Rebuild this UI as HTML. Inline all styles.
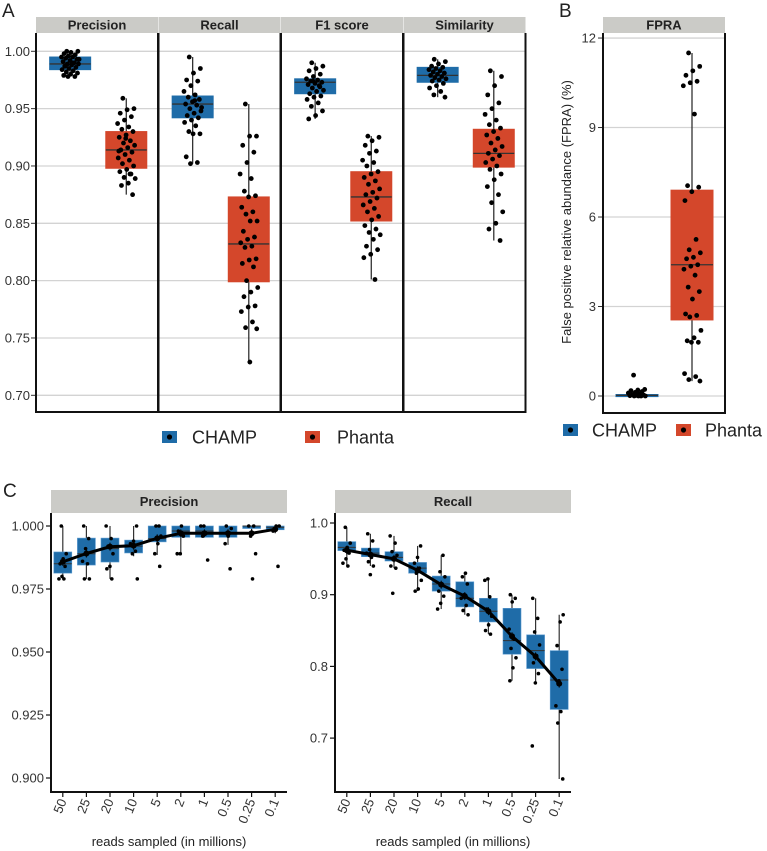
<!DOCTYPE html>
<html><head><meta charset="utf-8">
<style>
html,body{margin:0;padding:0;background:#fff;}
svg{display:block;font-family:"Liberation Sans",Arial,sans-serif;}
</style></head>
<body>
<svg id="fig" width="767" height="851" viewBox="0 0 767 851" xmlns="http://www.w3.org/2000/svg"></svg>
<script>
// ---------- Panel A data ----------
const metricsA = ["Precision","Recall","F1 score","Similarity"];
const groups = ["CHAMP","Phanta"];
// box stats: [lowWhisker, q1, median, q3, highWhisker]
const champBoxA = [[0.978,0.984,0.989,0.995,1.000],[0.902,0.942,0.954,0.961,0.995],[0.941,0.963,0.973,0.976,0.990],[0.960,0.973,0.979,0.986,0.993]];
const phantaBoxA = [[0.875,0.898,0.914,0.930,0.959],[0.729,0.799,0.832,0.873,0.954],[0.801,0.852,0.873,0.895,0.926],[0.835,0.899,0.911,0.932,0.983]];
const champPtsA = [
 [1.0,1.0,0.999,0.998,0.997,0.996,0.995,0.995,0.994,0.993,0.992,0.991,0.990,0.989,0.989,0.988,0.987,0.986,0.985,0.984,0.983,0.982,0.981,0.980,0.979,0.978,0.978,0.993,0.990,0.987],
 [0.995,0.985,0.981,0.975,0.974,0.970,0.965,0.962,0.960,0.958,0.956,0.954,0.953,0.950,0.948,0.946,0.944,0.942,0.940,0.938,0.935,0.930,0.928,0.928,0.908,0.903,0.902,0.951,0.957],
 [0.990,0.987,0.985,0.983,0.980,0.978,0.976,0.975,0.974,0.973,0.972,0.971,0.970,0.968,0.966,0.965,0.963,0.961,0.960,0.958,0.955,0.952,0.948,0.944,0.941,0.969,0.974],
 [0.993,0.991,0.989,0.987,0.986,0.985,0.984,0.983,0.982,0.981,0.980,0.979,0.978,0.977,0.976,0.975,0.974,0.972,0.970,0.968,0.965,0.962,0.960]
];
const phantaPtsA = [
 [0.959,0.950,0.949,0.946,0.943,0.940,0.937,0.934,0.932,0.930,0.927,0.925,0.922,0.920,0.918,0.916,0.914,0.912,0.910,0.907,0.905,0.902,0.900,0.897,0.895,0.893,0.890,0.889,0.885,0.883,0.875,0.924,0.913,0.893],
 [0.954,0.926,0.926,0.918,0.912,0.903,0.893,0.889,0.878,0.874,0.873,0.864,0.860,0.858,0.852,0.852,0.843,0.838,0.836,0.833,0.830,0.829,0.819,0.818,0.815,0.812,0.800,0.794,0.790,0.786,0.778,0.777,0.773,0.764,0.759,0.758,0.729],
 [0.926,0.925,0.922,0.918,0.913,0.911,0.905,0.903,0.900,0.895,0.893,0.890,0.887,0.884,0.880,0.877,0.875,0.872,0.869,0.866,0.863,0.860,0.856,0.853,0.848,0.845,0.842,0.840,0.836,0.830,0.827,0.823,0.820,0.801],
 [0.983,0.978,0.970,0.962,0.955,0.950,0.945,0.940,0.936,0.933,0.930,0.927,0.924,0.920,0.917,0.914,0.911,0.909,0.906,0.903,0.900,0.897,0.893,0.888,0.882,0.875,0.868,0.860,0.850,0.845,0.835]
];
const ticksA = [0.70,0.75,0.80,0.85,0.90,0.95,1.00];
// ---------- Panel B data ----------
const champBoxB = [-0.02,-0.02,0.02,0.05,0.2];
const phantaBoxB = [0.5,2.55,4.4,6.9,11.5];
const champPtsB = [0.7,0.22,0.2,0.18,0.15,0.12,0.1,0.08,0.05,0.03,0.02,0.01,0,0,0,0];
const phantaPtsB = [11.5,11.05,10.9,10.75,10.55,10.5,10.4,9.45,7.05,7.0,6.85,6.55,5.25,4.9,4.8,4.65,4.6,4.4,4.35,4.25,4.05,3.65,3.5,3.25,2.75,2.7,2.65,2.2,1.95,1.85,1.8,1.8,0.75,0.65,0.55,0.5];
const ticksB = [0,3,6,9,12];
// ---------- Panel C data ----------
const readsCats = ["50","25","20","10","5","2","1","0.5","0.25","0.1"];
const precBoxC = [[0.979,0.9813,0.985,0.9897,1.0],[0.979,0.9845,0.989,0.9952,1.0],[0.979,0.9857,0.991,0.9952,1.0],[0.988,0.9893,0.992,0.9944,1.0],[0.9885,0.9937,0.995,1.0,1.0],[0.9885,0.9955,0.998,1.0,1.0],[0.996,0.9955,0.998,1.0,1.0],[0.9925,0.9955,0.997,1.0,1.0],[0.996,0.999,1.0,1.0,1.0],[0.9975,0.9985,0.9995,1.0,1.0]];
const precMeanC = [0.9858,0.9891,0.9918,0.9922,0.9951,0.9971,0.9971,0.9971,0.9971,0.9987];
const precPtsC = [[1.0,0.989,0.987,0.985,0.984,0.980,0.979,0.979],[1.0,0.995,0.991,0.986,0.985,0.979,0.979],[1.0,0.995,0.992,0.989,0.984,0.983,0.979],[1.0,0.994,0.993,0.990,0.989,0.979],[1.0,1.0,0.996,0.993,0.989,0.984],[1.0,0.998,0.996,0.989,0.989],[1.0,1.0,0.997,0.996,0.9865],[1.0,0.999,0.996,0.993,0.983],[1.0,1.0,0.996,0.989,0.979],[1.0,1.0,0.998,0.984]];
const recBoxC = [[0.940,0.9615,0.966,0.974,0.994],[0.940,0.953,0.958,0.965,0.985],[0.937,0.947,0.952,0.960,0.982],[0.905,0.930,0.937,0.945,0.968],[0.880,0.905,0.915,0.926,0.955],[0.872,0.883,0.895,0.918,0.930],[0.845,0.862,0.877,0.895,0.922],[0.780,0.817,0.836,0.881,0.900],[0.775,0.797,0.822,0.844,0.895],[0.643,0.740,0.781,0.822,0.872]];
const recMeanC = [0.962,0.956,0.950,0.934,0.914,0.898,0.877,0.842,0.814,0.776];
const recPtsC = [[0.994,0.972,0.966,0.962,0.958,0.950,0.944,0.940],[0.985,0.975,0.963,0.958,0.952,0.946,0.940,0.928],[0.982,0.972,0.960,0.955,0.950,0.940,0.937,0.902],[0.968,0.952,0.944,0.937,0.930,0.920,0.908,0.905],[0.955,0.932,0.925,0.915,0.905,0.898,0.888,0.880],[0.930,0.925,0.915,0.900,0.895,0.885,0.878,0.872],[0.922,0.920,0.897,0.880,0.870,0.858,0.850,0.845],[0.900,0.895,0.890,0.852,0.838,0.825,0.812,0.798,0.780],[0.895,0.867,0.848,0.830,0.815,0.805,0.790,0.777,0.689],[0.872,0.862,0.829,0.796,0.780,0.745,0.737,0.721,0.643]];
const ticksCL = [0.900,0.925,0.950,0.975,1.000];
const ticksCR = [0.7,0.8,0.9,1.0];

const BLUE="#1f6ca8", RED="#d4472b", STRIP="#cbcbc7", GRID="#d3d3d3", TXT="#333";
const svg=document.getElementById('fig');
const NS="http://www.w3.org/2000/svg";
function mk(tag,attrs,parent){const e=document.createElementNS(NS,tag);for(const k in attrs)e.setAttribute(k,attrs[k]);(parent||svg).appendChild(e);return e;}
function txt(s,attrs,parent){const e=mk('text',attrs,parent);e.textContent=s;return e;}
function jit(i,amp){const f=(i*0.6180339887+0.31)%1;return (f*2-1)*amp;}

// ---------- Panel A ----------
const yA=v=>51.3+(1-v)*1146.7;
const panelX=[36,158.5,281,403.5], panelW=122;
txt("A",{x:2,y:17,"font-size":19,fill:"#222"});
const gA=mk('g',{});


ticksA.forEach(t=>{
  const tl=txt(t.toFixed(2),{x:30,y:yA(t)+4.5,"font-size":13,"text-anchor":"end",fill:TXT},gA);
  
  
  mk('line',{x1:31,x2:36,y1:yA(t),y2:yA(t),stroke:TXT,"stroke-width":1},gA);
});
metricsA.forEach((m,k)=>{
  const x0=panelX[k];
  const g=mk('g',{},gA);
  
  
  const st=mk('rect',{x:x0,y:17,width:panelW,height:16,fill:STRIP},g);
  
  const sl=txt(m,{x:x0+panelW/2,y:29.5,"font-size":13,"font-weight":"bold","text-anchor":"middle",fill:"#222"},g);
  
  ticksA.forEach(t=>mk('line',{x1:x0,x2:x0+panelW,y1:yA(t),y2:yA(t),stroke:GRID,"stroke-width":1.3},g));
  [[champBoxA[k],champPtsA[k],BLUE,0.28],[phantaBoxA[k],phantaPtsA[k],RED,0.74]].forEach(([b,pts,col,f],gi)=>{
    const cx=x0+panelW*f, w=41;
    const bg=mk('g',{},g);
    
    
    mk('line',{x1:cx,x2:cx,y1:yA(b[0]),y2:yA(b[4]),stroke:TXT,"stroke-width":1.3},bg);
    mk('rect',{x:cx-w/2,y:yA(b[3]),width:w,height:yA(b[1])-yA(b[3]),fill:col,stroke:col},bg);
    mk('line',{x1:cx-w/2,x2:cx+w/2,y1:yA(b[2]),y2:yA(b[2]),stroke:"#333","stroke-width":1.3},bg);
    pts.forEach((v,i)=>{
      const p=mk('circle',{cx:cx+jit(i,9),cy:yA(v),r:2.4,fill:"#000"},bg);
      
    });
  });
  mk('line',{x1:x0,x2:x0,y1:33,y2:412,stroke:"#111","stroke-width":2},g);
  mk('line',{x1:x0+panelW,x2:x0+panelW,y1:33,y2:412,stroke:"#111","stroke-width":2},g);
  mk('line',{x1:x0-1,x2:x0+panelW+1,y1:412,y2:412,stroke:"#111","stroke-width":2},g);
});

// ---------- Legends ----------
function legend(x,y,label,col,name,gap){
  const g=mk('g',{});
  
  
  mk('rect',{x:x,y:y-6,width:15,height:12,fill:col},g);
  mk('circle',{cx:x+7.5,cy:y,r:2.6,fill:"#000"},g);
  txt(label,{x:x+gap,y:y+6.5,"font-size":18,fill:"#222"},g);
}
legend(162,437,"CHAMP",BLUE,'legend-a-champ',30);
legend(305,437,"Phanta",RED,'legend-a-phanta',32);
legend(563,430,"CHAMP",BLUE,'legend-b-champ',29);
legend(676,430,"Phanta",RED,'legend-b-phanta',29);

// ---------- Panel B ----------
const yB=v=>396-v*29.83;
const gB=mk('g',{});


txt("B",{x:559,y:17,"font-size":19,fill:"#222"},gB);
mk('rect',{x:603,y:17,width:122,height:16,fill:STRIP},gB);
txt("FPRA",{x:664,y:29.5,"font-size":13,"font-weight":"bold","text-anchor":"middle",fill:"#222"},gB);
ticksB.forEach(t=>{
  mk('line',{x1:603,x2:725,y1:yB(t),y2:yB(t),stroke:GRID,"stroke-width":1.3},gB);
  mk('line',{x1:598,x2:603,y1:yB(t),y2:yB(t),stroke:TXT},gB);
  const tl=txt(String(t),{x:596,y:yB(t)+4.5,"font-size":13,"text-anchor":"end",fill:TXT},gB);
  
});
const yl=txt("False positive relative abundance (FPRA) (%)",{x:0,y:0,"font-size":13,"text-anchor":"middle",fill:"#222",transform:"translate(571,212) rotate(-90)"},gB);

[[champBoxB,champPtsB,BLUE,637],[phantaBoxB,phantaPtsB,RED,692]].forEach(([b,pts,col,cx],gi)=>{
  const w=42;
  const bg=mk('g',{},gB);
  
  
  mk('line',{x1:cx,x2:cx,y1:yB(b[0]),y2:yB(b[4]),stroke:TXT,"stroke-width":1.3},bg);
  mk('rect',{x:cx-w/2,y:yB(b[3]),width:w,height:Math.max(2,yB(b[1])-yB(b[3])),fill:col,stroke:col},bg);
  mk('line',{x1:cx-w/2,x2:cx+w/2,y1:yB(b[2]),y2:yB(b[2]),stroke:"#333","stroke-width":1.3},bg);
  pts.forEach((v,i)=>{
    const p=mk('circle',{cx:cx+jit(i,9),cy:yB(v),r:2.4,fill:"#000"},bg);
    
  });
});
mk('line',{x1:603,x2:603,y1:33,y2:413,stroke:"#111","stroke-width":2},gB);
mk('line',{x1:725,x2:725,y1:33,y2:413,stroke:"#111","stroke-width":2},gB);
mk('line',{x1:602,x2:726,y1:413,y2:413,stroke:"#111","stroke-width":2},gB);

// ---------- Panel C ----------
txt("C",{x:3,y:497,"font-size":19,fill:"#222"});
function panelC(name,title,x0,x1,yFn,ticks,fmt,boxes,means,pts){
  const g=mk('g',{});
  
  
  mk('rect',{x:x0,y:490,width:x1-x0,height:23,fill:STRIP},g);
  txt(title,{x:(x0+x1)/2,y:506,"font-size":13,"font-weight":"bold","text-anchor":"middle",fill:"#222"},g);
  const step=(x1-x0)/readsCats.length;
  const xc=i=>x0+step*(i+0.5);
  boxes.forEach((b,i)=>{
    const cx=xc(i), w=18;
    const bg=mk('g',{},g);
    
    
    mk('line',{x1:cx,x2:cx,y1:yFn(b[0]),y2:yFn(b[4]),stroke:"#333","stroke-width":1.2},bg);
    mk('rect',{x:cx-w/2,y:yFn(b[3]),width:w,height:Math.max(1,yFn(b[1])-yFn(b[3])),fill:BLUE,stroke:"#5a9ad0","stroke-width":0.6},bg);
    mk('line',{x1:cx-w/2,x2:cx+w/2,y1:yFn(b[2]),y2:yFn(b[2]),stroke:"#333","stroke-width":1},bg);
    pts[i].forEach((v,j)=>{
      const p=mk('circle',{cx:cx+jit(j+i*3,4),cy:yFn(v),r:1.8,fill:"#000"},bg);
      
    });
  });
  const d=means.map((v,i)=>(i?'L':'M')+xc(i).toFixed(1)+','+yFn(v).toFixed(1)).join(' ');
  const ln=mk('path',{d:d,fill:"none",stroke:"#000","stroke-width":3,"stroke-linejoin":"round"},g);
  
  means.forEach((v,i)=>{
    mk('line',{x1:xc(i),x2:xc(i),y1:yFn(v)-4,y2:yFn(v)+4,stroke:"#000","stroke-width":1},g);
    mk('circle',{cx:xc(i),cy:yFn(v),r:3,fill:"#000"},g);
  });
  mk('line',{x1:x0,x2:x0,y1:513,y2:792,stroke:"#111","stroke-width":2},g);
  mk('line',{x1:x0-1,x2:x1,y1:792,y2:792,stroke:"#111","stroke-width":2},g);
  ticks.forEach(t=>{
    mk('line',{x1:x0-5,x2:x0,y1:yFn(t),y2:yFn(t),stroke:"#111","stroke-width":1.2},g);
    txt(fmt(t),{x:x0-7,y:yFn(t)+4.5,"font-size":13,"text-anchor":"end",fill:TXT},g);
  });
  readsCats.forEach((c,i)=>{
    mk('line',{x1:xc(i),x2:xc(i),y1:792,y2:797,stroke:"#111","stroke-width":1.2},g);
    const t=txt(c,{x:0,y:0,"font-size":13,"text-anchor":"end",fill:TXT,transform:`translate(${xc(i)+4},${801}) rotate(-68)`},g);
    
  });
  txt("reads sampled (in millions)",{x:(x0+x1)/2,y:846,"font-size":13,"text-anchor":"middle",fill:"#222"},g);
}
panelC('panel-c-precision','Precision',51,287,v=>526+(1-v)*2520,ticksCL,t=>t.toFixed(3),precBoxC,precMeanC,precPtsC);
panelC('panel-c-recall','Recall',335,571,v=>523+(1-v)*717,ticksCR,t=>t.toFixed(1),recBoxC,recMeanC,recPtsC);
</script>
</body></html>
